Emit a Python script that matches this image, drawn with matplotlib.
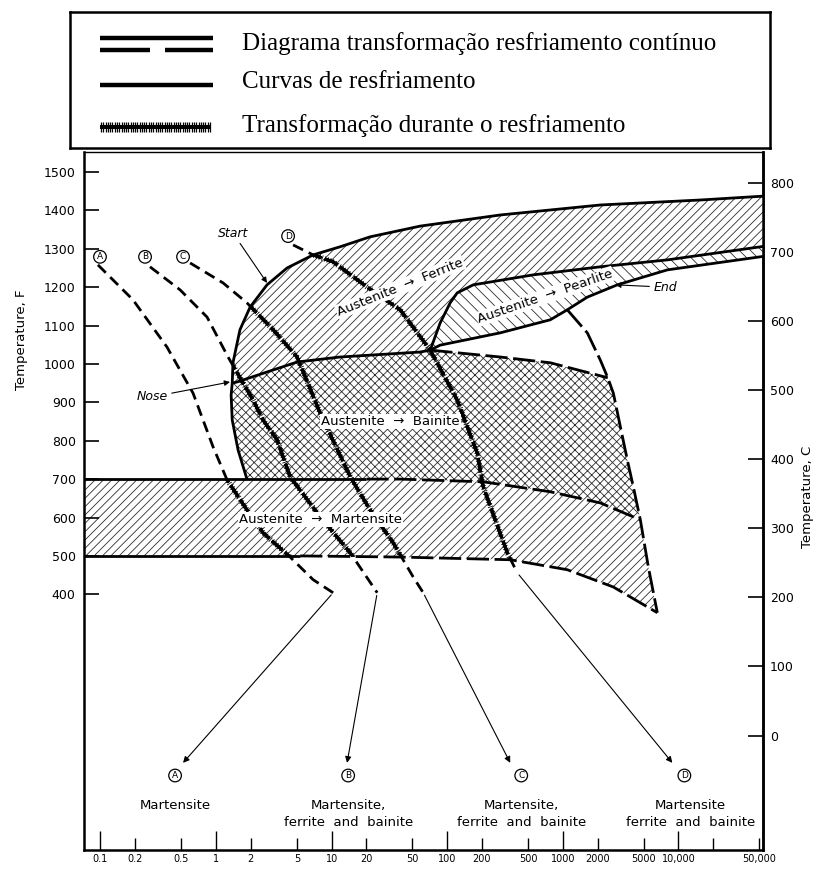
import numpy as np
import matplotlib
matplotlib.use("Agg")
import matplotlib.pyplot as plt
import matplotlib.patheffects as pe
from matplotlib.path import Path
from matplotlib.patches import PathPatch, Polygon

plt.rcParams['font.family'] = ['DejaVu Sans']
plt.rcParams['hatch.linewidth'] = 0.6
plt.rcParams['lines.scale_dashes'] = False

# ---- CCT diagram curves: time (s), temperature (F) ----
start_t = [1.85, 1.55, 1.38, 1.35, 1.38, 1.40, 1.61, 1.97, 2.76, 4.12, 6.92, 11.8, 21.5, 58.4, 288, 2113, 15500, 54000]
start_F = [700, 776, 854, 919, 950, 1003, 1089, 1148, 1206, 1250, 1284, 1305, 1331, 1359, 1388, 1414, 1427, 1437]
NOSE = 4

bain_top_t = [1.38, 1.52, 2.76, 5.03, 11.8, 58.4, 71.3]
bain_top_F = [950, 953, 979, 1005, 1018, 1031, 1036]
bain_top2_t = [71.3, 288, 780, 2450]
bain_top2_F = [1036, 1018, 1003, 964]

ferr_end_t = [71.3, 87, 106, 122, 168, 555, 2113, 8035, 54000]
ferr_end_F = [1036, 1107, 1159, 1185, 1206, 1232, 1253, 1271, 1306]

pearl_end_t = [71.3, 87, 288, 780, 1094, 1630, 2962, 8035, 54000]
pearl_end_F = [1036, 1049, 1081, 1115, 1141, 1174, 1206, 1245, 1280]

drop_t = [1094, 1630, 2113, 2450, 2738, 3617, 4077, 4689, 5500, 6577]
drop_F = [1141, 1081, 1010, 964, 924, 750, 680, 594, 471, 352]

ms_t = [0.072, 20, 39.2, 205, 780, 2113, 4689]
ms_F = [700, 700, 700, 693, 667, 638, 594]
mf_t = [0.072, 5.34, 39.2, 351, 1094, 2738, 6577]
mf_F = [500, 500, 497, 490, 464, 419, 352]

# ---- cooling curves ----
cool = {
    'A': ([0.095, 0.191, 0.376, 0.632, 0.942, 1.245, 1.85, 2.55, 4.37, 6.92, 10.3],
          [1258, 1167, 1044, 924, 784, 698, 620, 560, 497, 438, 404]),
    'B': ([0.268, 0.488, 0.836, 1.27, 2.09, 2.55, 3.38, 4.37, 7.95, 14.5, 24.8],
          [1253, 1193, 1122, 1018, 906, 854, 802, 706, 602, 508, 404]),
    'C': ([0.596, 1.15, 1.85, 3.12, 5.03, 7.95, 14.5, 21.5, 34.1, 50.8, 62],
          [1263, 1211, 1159, 1089, 1018, 872, 706, 620, 534, 445, 404]),
    'D': ([4.64, 6.92, 10.3, 20.3, 39.2, 71.3, 122, 182, 205, 331, 404],
          [1310, 1284, 1266, 1200, 1141, 1036, 906, 768, 680, 508, 456]),
}
top_label_t = [0.099, 0.243, 0.518, 4.2]
top_label_F = [1279, 1279, 1279, 1333]
tip_t = [0.518, 13.6, 351, 8870]
tip_F = -39
circ_t = [0.442, 13.9, 437, 11270]
circ_F = -72
result_t = [0.442, 13.9, 437, 12700]
result_txt = ['Martensite', 'Martensite,\nferrite  and  bainite',
              'Martensite,\nferrite  and  bainite', 'Martensite\nferrite  and  bainite']

major_ticks = [0.1, 1, 10, 100, 1000, 10000]
major_labels = ['0.1', '1', '10', '100', '1000', '10,000']
minor_ticks = [0.2, 0.5, 2, 5, 20, 50, 200, 500, 2000, 5000, 20000, 50000]
minor_labels = ['0.2', '0.5', '2', '5', '20', '50', '200', '500', '2000', '5000', '', '50,000']
yF_ticks = list(range(400, 1501, 100))
yC_ticks = list(range(0, 801, 100))

legend_txt = ['Diagrama transformação resfriamento contínuo',
              'Curvas de resfriamento',
              'Transformação durante o resfriamento']


def pts(t, F):
    return np.column_stack([t, F])


fig = plt.figure(figsize=(8.2, 8.71), dpi=100)
ax = fig.add_axes([84/820, 21/871, (763-84)/820, (850-152)/871])
ax.set_xscale('log')
ax.set_xlim(0.072, 54000)
ax.set_ylim(-266, 1552)

# ---- regions ----
S = pts(start_t, start_F)
BT = pts(bain_top_t, bain_top_F)
BT2 = pts(bain_top2_t, bain_top2_F)
FE = pts(ferr_end_t, ferr_end_F)
PE = pts(pearl_end_t, pearl_end_F)
DR = pts(drop_t, drop_F)
MS = pts(ms_t, ms_F)
MF = pts(mf_t, mf_F)

ferrite = np.vstack([S[NOSE:], FE[::-1], BT[::-1]])
pearlite = np.vstack([FE, PE[::-1]])
ms_back = MS[(MS[:, 0] > start_t[0]) & (MS[:, 0] < drop_t[7])][::-1]
bainite = np.vstack([S[:NOSE+1], BT[1:], BT2[1:], DR[4:8], ms_back])
martens = np.vstack([MS, DR[8:], MF[::-1]])

hc = '#2e2e2e'
regions = [(ferrite, '////'), (pearlite, '\\\\\\'), (bainite, 'xxxx'), (martens, '////')]
for poly, h in regions:
    ax.add_patch(Polygon(poly, closed=True, facecolor='white', edgecolor=hc,
                         hatch=h, linewidth=0, zorder=1))

lw = 2.0
kw = dict(color='k', lw=lw, zorder=3, solid_capstyle='butt')
dash = (16, 4)
ax.plot(start_t, start_F, **kw)
ax.plot(bain_top_t, bain_top_F, **kw)
ax.plot(bain_top2_t, bain_top2_F, dashes=dash, **kw)
ax.plot(ferr_end_t, ferr_end_F, **kw)
ax.plot(pearl_end_t, pearl_end_F, **kw)
ax.plot(drop_t, drop_F, dashes=dash, **kw)
ax.plot(ms_t[:2], ms_F[:2], **kw)
ax.plot(ms_t[1:], ms_F[1:], dashes=dash, **kw)
ax.plot(mf_t[:2], mf_F[:2], **kw)
ax.plot(mf_t[1:], mf_F[1:], dashes=dash, **kw)

# clip patch: union of transformation regions
comp = Path.make_compound_path(*[Path(np.vstack([p, p[:1]]), closed=True) for p, _ in regions])
clip = PathPatch(comp, facecolor='none', edgecolor='none')
ax.add_patch(clip)

ticked = [pe.withTickedStroke(angle=90, spacing=2.0, length=1.0, linewidth=0.6),
          pe.withTickedStroke(angle=-90, spacing=2.0, length=1.0, linewidth=0.6),
          pe.Normal()]

for i, (k, (t, F)) in enumerate(cool.items()):
    ax.plot(t, F, color='k', lw=2.0, dashes=(8, 4.5), zorder=3)
    ln, = ax.plot(t, F, color='k', lw=2.2, dashes=(10, 2.5), zorder=4, path_effects=ticked)
    ln.set_clip_path(clip)
    ax.text(top_label_t[i], top_label_F[i], k, fontsize=6.5, ha='center', va='center',
            bbox=dict(boxstyle='circle,pad=0.2', fc='white', ec='k', lw=0.9), zorder=6)
    ax.annotate('', xy=(tip_t[i], tip_F), xytext=(t[-1], F[-1]),
                arrowprops=dict(arrowstyle='-|>', lw=0.8, color='k', mutation_scale=9,
                                shrinkA=2, shrinkB=0), zorder=3)
    ax.text(circ_t[i], circ_F, k, fontsize=6.5, ha='center', va='center',
            bbox=dict(boxstyle='circle,pad=0.2', fc='white', ec='k', lw=0.9), zorder=6)
    ax.text(result_t[i], circ_F - 62, result_txt[i], fontsize=9.5, ha='center', va='top',
            linespacing=1.35)

wb = dict(facecolor='white', edgecolor='none', pad=0.8)
ax.text(39.2, 1200, 'Austenite  \u2192  Ferrite', rotation=22, ha='center', va='center',
        fontsize=9.5, bbox=wb, zorder=5)
ax.text(705, 1176, 'Austenite  \u2192  Pearlite', rotation=19, ha='center', va='center',
        fontsize=9.5, bbox=wb, zorder=5)
ax.text(32.1, 849, 'Austenite  \u2192  Bainite', ha='center', va='center',
        fontsize=9.5, bbox=wb, zorder=5)
ax.text(7.95, 594, 'Austenite  \u2192  Martensite', ha='center', va='center',
        fontsize=9.5, bbox=wb, zorder=5)

ap = dict(arrowstyle='-|>', lw=0.8, color='k', mutation_scale=8, shrinkA=1, shrinkB=0)
ax.annotate('Start', xy=(2.76, 1211), xytext=(1.40, 1341), fontsize=9, style='italic',
            ha='center', va='center', arrowprops=ap, zorder=6)
ax.annotate('Nose', xy=(1.32, 953), xytext=(0.279, 914), fontsize=9, style='italic',
            ha='center', va='center', arrowprops=ap, zorder=6)
ax.annotate('End', xy=(2850, 1206), xytext=(7710, 1200), fontsize=9, style='italic',
            ha='center', va='center', arrowprops=ap, zorder=6)

# ---- axes styling ----
for s in ['left', 'bottom']:
    ax.spines[s].set_linewidth(1.8)
ax.spines['right'].set_linewidth(1.8)
ax.spines['top'].set_linewidth(1.0)

ax.set_xticks(major_ticks)
ax.set_xticklabels(major_labels)
ax.set_xticks(minor_ticks, minor=True)
ax.set_xticklabels(minor_labels, minor=True)
ax.tick_params(axis='x', which='major', direction='in', length=14, width=1.0, labelsize=7, pad=3)
ax.tick_params(axis='x', which='minor', direction='in', length=9, width=1.0, labelsize=7, pad=3)
ax.set_yticks(yF_ticks)
ax.tick_params(axis='y', which='both', direction='in', length=11, width=1.2, labelsize=9,
               pad=6, right=False)
ax.yaxis.set_minor_locator(matplotlib.ticker.NullLocator())

sec = ax.secondary_yaxis('right', functions=(lambda f: (f - 32) * 5 / 9, lambda c: c * 9 / 5 + 32))
sec.set_yticks(yC_ticks)
sec.tick_params(direction='in', length=11, width=1.2, labelsize=9, pad=5)
sec.yaxis.set_minor_locator(matplotlib.ticker.NullLocator())
sec.spines['right'].set_linewidth(1.8)

fig.text(22/820, 1 - 340/871, 'Temperature, F', rotation=90, ha='center', va='center', fontsize=9.5)
fig.text(808/820, 1 - 497/871, 'Temperature, C', rotation=90, ha='center', va='center', fontsize=9.5)

# ---- legend box ----
lax = fig.add_axes([70/820, 1 - 148/871, 700/820, 136/871])
lax.set_xlim(0, 700)
lax.set_ylim(136, 0)
lax.set_xticks([])
lax.set_yticks([])
for s in lax.spines.values():
    s.set_linewidth(1.8)
lk = dict(color='k', lw=3.2, solid_capstyle='butt')
lax.plot([30, 143], [26, 26], **lk)
lax.plot([30, 80], [38, 38], **lk)
lax.plot([95, 143], [38, 38], **lk)
lax.plot([30, 143], [73, 73], **lk)
lax.plot([30, 141], [115, 115], color='k', lw=2.6, solid_capstyle='butt',
         path_effects=[pe.withTickedStroke(angle=90, spacing=1.6, length=2.2, linewidth=0.9),
                       pe.withTickedStroke(angle=-90, spacing=1.6, length=2.2, linewidth=0.9),
                       pe.Normal()])
for y, txt in zip([32, 70, 114], legend_txt):
    lax.text(172, y, txt, fontsize=18, family='Liberation Serif', ha='left', va='center')

fig.savefig('out.png', dpi=100)
